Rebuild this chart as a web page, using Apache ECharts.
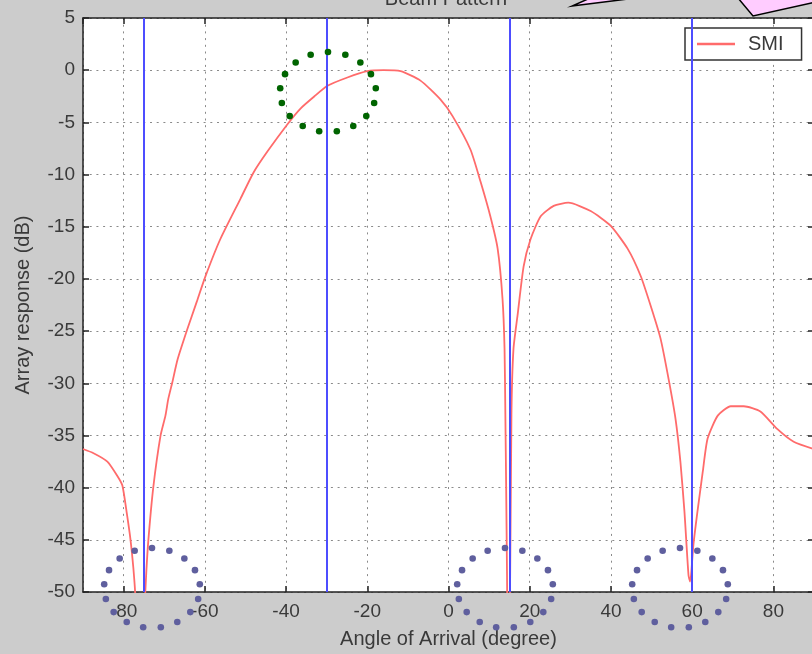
<!DOCTYPE html>
<html>
<head>
<meta charset="utf-8">
<title>Beam Pattern</title>
<script src="https://cdn.jsdelivr.net/npm/echarts@6/dist/echarts.min.js"></script>
<style>
  html, body { margin: 0; padding: 0; overflow: hidden; background: #cccccc; }
  #main { width: 816px; height: 654px; }
</style>
</head>
<body>
<div id="main"></div>
<script>
// angle of arrival (degree)
var angles = [-90, -87.4, -84, -81.5, -80.3, -79.2, -78.3, -77.6, -77.1, -76, -74.9, -74.4, -73.9, -72.7,
  -70.9, -69.7, -69, -68, -66.7, -64.3, -62, -59.9, -56.2, -51.2, -48, -44.6, -39.7, -36.5, -33, -29.8, -24.9,
  -20, -16, -11.8, -6.9, -2, 1, 5.4, 7.9, 10.3, 12.1, 13.3, 13.8, 14, 14.2, 14.4, 14.8, 15.5, 16, 17,
  18.5, 20.2, 22.7, 25.9, 29.5, 35, 39.9, 44.1, 47.3, 49.8, 52.2, 54.2, 55.9, 57.1, 58.1, 59.1, 59.5,
  60.3, 61.3, 62.6, 63.8, 66.3, 69.5, 72.7, 76.8, 81, 85, 90];
// SMI array response (dB)
var smiResponse = [-36.3, -36.7, -37.5, -38.9, -39.8, -42.5, -45, -47.7, -50.5, -62, -52, -48, -45, -40,
  -35, -33.1, -31.5, -29.9, -27.7, -24.8, -22.2, -19.8, -16.2, -12.3, -9.8, -7.8, -5.2, -3.7, -2.5, -1.5, -0.7,
  -0.1, 0, -0.1, -1, -2.8, -4.4, -7.6, -10.7, -14, -17.1, -21.9, -26.7, -33, -40, -48, -65, -33, -26.7, -23.5,
  -18.8, -16.2, -14, -13, -12.7, -13.5, -14.9, -17.1, -19.7, -22.6, -25.7, -29.6, -33.4, -37.5, -42.3, -48.4, -49,
  -45.5, -42.3, -38.5, -35.3, -33.1, -32.2, -32.2, -32.7, -34.4, -35.6, -36.3];
// directions of the sources (blue vertical lines)
var sourceAngles = [-75, -30, 15, 60];

var xRange = [-90, 90];
var xStep = 20;
var yRange = [-50, 5];
var yStep = 5;

var textColor = '#3a3a3a';
var font = 'Liberation Sans';

var smiData = [];
for (var i = 0; i < angles.length; i++) {
  smiData.push([angles[i], smiResponse[i]]);
}

var markData = [];
for (var j = 0; j < sourceAngles.length; j++) {
  markData.push({ xAxis: sourceAngles[j] });
}

// dotted ellipses drawn over the figure as annotations
function dottedEllipse(cx, cy, rx, ry, n, color) {
  var dots = [];
  for (var k = 0; k < n; k++) {
    var a = -Math.PI / 2 + k * 2 * Math.PI / n;
    dots.push({
      type: 'circle',
      z: 100,
      silent: true,
      shape: { cx: cx + rx * Math.cos(a), cy: cy + ry * Math.sin(a), r: 3.3 },
      style: { fill: color }
    });
  }
  return dots;
}

var gridLine = { show: true, lineStyle: { color: '#8a8a8a', width: 1, type: [2, 4.7] } };

var graphics = [
  {
    type: 'text', x: 446, y: 9, z: 100,
    style: { text: 'Beam Pattern', fill: textColor, font: '20px "' + font + '"', textAlign: 'center', textVerticalAlign: 'bottom' }
  },
  {
    type: 'polygon', z: 100,
    shape: { points: [[572, 6], [628, -1], [588, -1]] },
    style: { fill: '#ffccff', stroke: '#000', lineWidth: 1.5 }
  },
  {
    type: 'polygon', z: 100,
    shape: { points: [[738, -2], [753, 16], [816, 2], [816, -2]] },
    style: { fill: '#ffccff', stroke: '#000', lineWidth: 1.5 }
  }
].concat(
  dottedEllipse(328, 92, 48, 40, 17, '#006400'),
  dottedEllipse(152, 588, 48, 40, 17, '#5f5f9e'),
  dottedEllipse(505, 588, 48, 40, 17, '#5f5f9e'),
  dottedEllipse(680, 588, 48, 40, 17, '#5f5f9e')
);

var myChart = echarts.init(document.getElementById('main'));
var option = {
  backgroundColor: '#cccccc',
  animation: false,
  textStyle: { fontFamily: font },
  grid: {
    left: 83, right: 2, top: 18, bottom: 61,
    show: true, backgroundColor: '#ffffff', borderWidth: 0
  },
  legend: {
    left: 685, top: 28,
    backgroundColor: '#ffffff',
    borderColor: '#333',
    borderWidth: 1.5,
    padding: [6, 18, 6, 12],
    icon: 'rect',
    itemWidth: 38,
    itemHeight: 2.5,
    textStyle: { fontSize: 20, color: textColor, fontFamily: font, padding: [0, 0, 0, 8] },
    data: ['SMI']
  },
  xAxis: [{
    type: 'value',
    min: xRange[0], max: xRange[1],
    splitNumber: 9, minInterval: xStep, maxInterval: xStep,
    name: 'Angle of Arrival (degree)',
    nameLocation: 'middle',
    nameGap: 37,
    nameTextStyle: { fontSize: 20, color: textColor, fontFamily: font },
    axisLine: { show: true, onZero: false, lineStyle: { color: '#222', width: 1.5 } },
    axisTick: { show: true, inside: true, length: 6, lineStyle: { color: '#222', width: 1.5 } },
    axisLabel: { fontSize: 19, color: textColor, margin: 10, showMinLabel: false, showMaxLabel: false },
    splitLine: gridLine
  }, {
    type: 'value', position: 'top',
    min: xRange[0], max: xRange[1],
    splitNumber: 9, minInterval: xStep, maxInterval: xStep,
    axisLine: { show: true, onZero: false, lineStyle: { color: '#222', width: 1.5 } },
    axisTick: { show: true, inside: true, length: 6, lineStyle: { color: '#222', width: 1.5 } },
    axisLabel: { show: false },
    splitLine: { show: false }
  }],
  yAxis: [{
    type: 'value',
    min: yRange[0], max: yRange[1], interval: yStep,
    name: 'Array response (dB)',
    nameLocation: 'middle',
    nameGap: 50,
    nameTextStyle: { fontSize: 20, color: textColor, fontFamily: font },
    axisLine: { show: true, onZero: false, lineStyle: { color: '#222', width: 1.5 } },
    axisTick: { show: true, inside: true, length: 6, lineStyle: { color: '#222', width: 1.5 } },
    axisLabel: { fontSize: 19, color: textColor, margin: 8 },
    splitLine: gridLine
  }, {
    type: 'value', position: 'right',
    min: yRange[0], max: yRange[1], interval: yStep,
    axisLine: { show: true, onZero: false, lineStyle: { color: '#222', width: 1.5 } },
    axisTick: { show: true, inside: true, length: 6, lineStyle: { color: '#222', width: 1.5 } },
    axisLabel: { show: false },
    splitLine: { show: false }
  }],
  series: [{
    name: 'SMI',
    type: 'line',
    data: smiData,
    symbol: 'none',
    smooth: 0.2,
    clip: true,
    lineStyle: { color: '#ff6b6b', width: 1.8 },
    itemStyle: { color: '#ff6b6b' },
    markLine: {
      silent: true,
      symbol: 'none',
      label: { show: false },
      lineStyle: { color: '#4d4dff', width: 2, type: 'solid' },
      data: markData
    }
  }],
  graphic: graphics
};
myChart.setOption(option);
</script>
</body>
</html>
